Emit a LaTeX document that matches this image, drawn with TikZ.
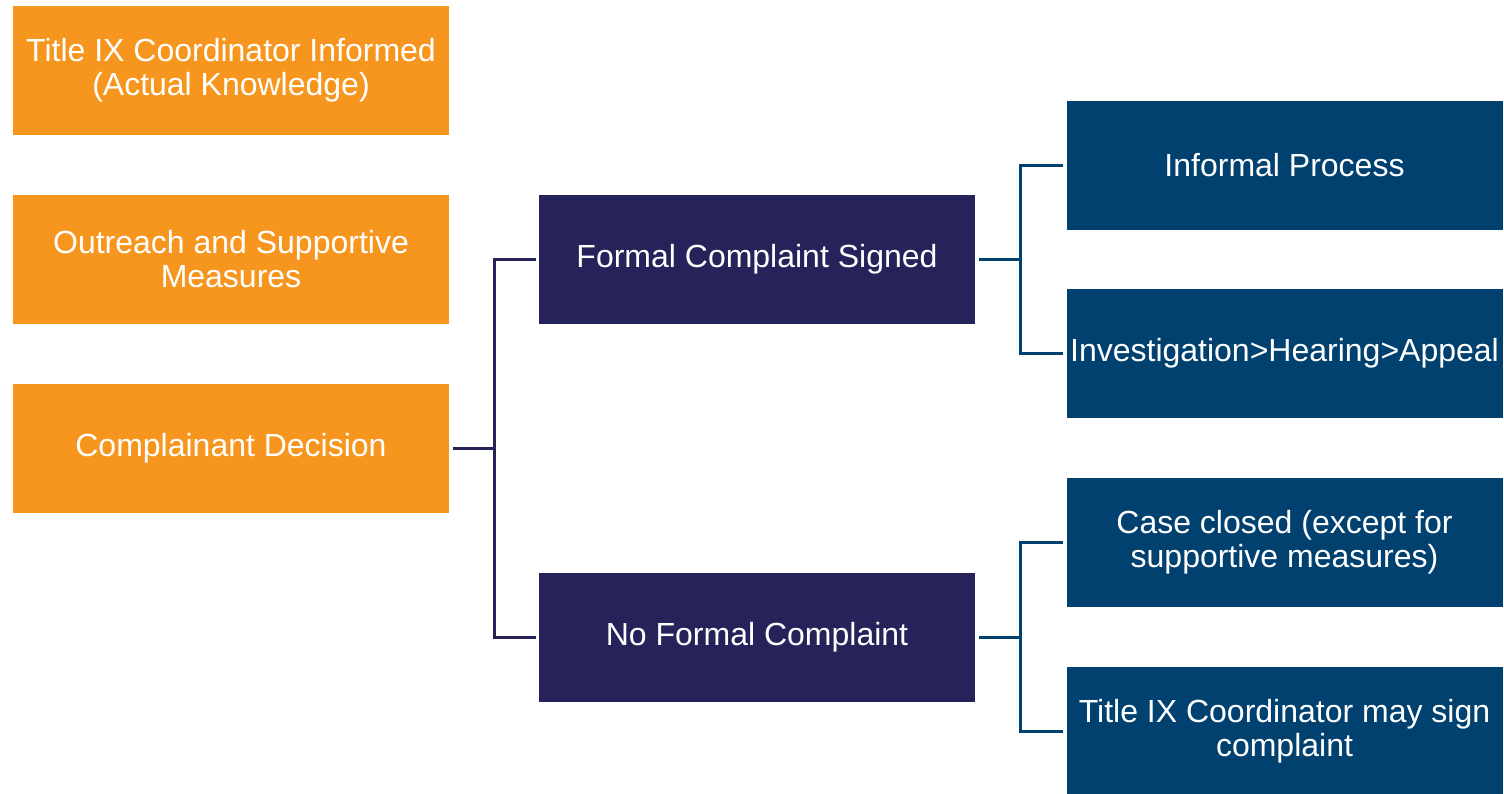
\documentclass[tikz,border=0pt]{standalone}
\usepackage{fontspec}
\setmainfont{Liberation Sans}

\definecolor{stageorange}{HTML}{F7961E}
\definecolor{decisionpurple}{HTML}{26225A}
\definecolor{outcomeblue}{HTML}{00416F}

\begin{document}
\begin{tikzpicture}[x=0.5pt, y=-0.5pt,
    box/.style={minimum width=218pt, minimum height=64.5pt, inner sep=0pt,
        align=center, text=white, font=\fontsize{16pt}{17pt}\selectfont},
    stage/.style={box, fill=stageorange},
    decision/.style={box, fill=decisionpurple},
    outcome/.style={box, fill=outcomeblue},
    purplelink/.style={draw=decisionpurple, line width=1.5pt, shorten <=2pt, shorten >=1.5pt},
    bluelink/.style={draw=outcomeblue, line width=1.5pt, shorten <=2pt, shorten >=1.5pt}]

    % Fix the page to the size of the reference
    \useasboundingbox (0,0) rectangle (1504,793);

    % Stages on the left
    \node[stage] (informed) at (231, 70.5) {Title IX Coordinator Informed\\(Actual Knowledge)};
    \node[stage] (outreach) at (231, 259.5) {Outreach and Supportive\\Measures};
    \node[stage] (cd) at (231, 448.5) {Complainant Decision};

    % The two decisions
    \node[decision] (fc) at (757, 259.5) {Formal Complaint Signed};
    \node[decision] (nf) at (757, 637.5) {No Formal Complaint};

    % Outcomes on the right
    \node[outcome] (informal) at (1284.5, 165) {Informal Process};
    \node[outcome] (hearing) at (1284.5, 353.5) {Investigation>Hearing>Appeal};
    \node[outcome] (closed) at (1284.5, 542.5) {Case closed (except for\\supportive measures)};
    \node[outcome] (coordsign) at (1284.5, 731.5) {Title IX Coordinator may sign\\complaint};

    % Connectors from the decision
    \draw[purplelink] (cd.east) -- ++(45,0) |- (fc.west);
    \draw[purplelink] (cd.east) -- ++(45,0) |- (nf.west);

    % Connectors to the outcomes
    \draw[bluelink] (fc.east) -- ++(45,0) |- (informal.west);
    \draw[bluelink] (fc.east) -- ++(45,0) |- (hearing.west);
    \draw[bluelink] (nf.east) -- ++(45,0) |- (closed.west);
    \draw[bluelink] (nf.east) -- ++(45,0) |- (coordsign.west);

\end{tikzpicture}
\end{document}
